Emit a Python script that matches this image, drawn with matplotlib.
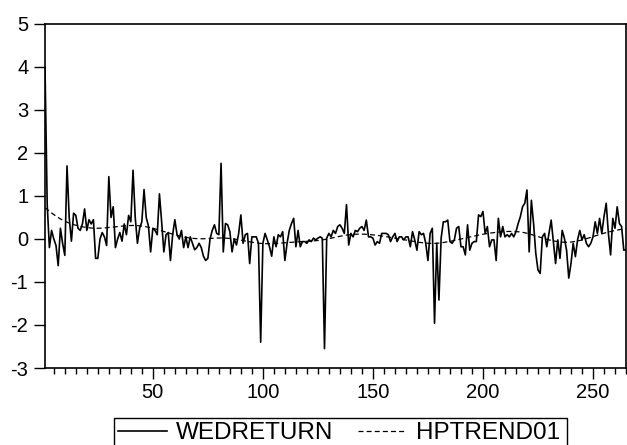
import numpy as np
import matplotlib
matplotlib.use("Agg")
import matplotlib.pyplot as plt
from matplotlib.patches import Rectangle
from matplotlib.ticker import MultipleLocator

wedreturn_1_40 = [
    4.0, 0.8, -0.2, 0.2, 0.0, -0.15, -0.62, 0.25, -0.1, -0.38,
    1.7, 0.5, -0.05, 0.6, 0.55, 0.25, 0.2, 0.35, 0.7, 0.2,
    0.45, 0.35, 0.45, -0.45, -0.45, 0.0, 0.15, 0.05, -0.15, 1.45,
    0.5, 0.75, -0.2, 0.0, 0.15, -0.05, 0.35, 0.1, 0.55, 0.4,
]
wedreturn_41_80 = [
    1.6, 0.5, -0.1, 0.25, 0.4, 1.15, 0.5, 0.3, -0.3, 0.25,
    0.2, 0.1, 1.05, 0.4, -0.3, 0.1, 0.15, -0.5, 0.1, 0.45,
    0.1, 0.0, 0.2, -0.2, 0.05, -0.2, 0.05, -0.1, -0.25, -0.2,
    -0.1, -0.2, -0.4, -0.5, -0.45, 0.0, 0.2, 0.33, 0.13, 0.1,
]
wedreturn_81_128 = [
    1.76, -0.3, 0.36, 0.33, 0.17, -0.3, 0.0, -0.14, 0.13, 0.56,
    -0.1, 0.1, 0.13, -0.57, 0.05, 0.05, 0.05, -0.1, -2.4, -0.1,
    0.13, -0.02, -0.18, -0.4, 0.05, -0.18, 0.1, 0.05, 0.17, -0.5,
    -0.1, 0.2, 0.36, 0.48, -0.18, 0.2, -0.18, -0.06, -0.06, -0.1,
    -0.02, -0.06, 0.02, -0.02, 0.02, 0.05, 0.02, -2.55,
]
wedreturn_129_168 = [
    0.02, 0.13, 0.05, 0.2, 0.13, 0.29, 0.33, 0.25, 0.13, 0.8,
    -0.14, 0.13, 0.05, 0.2, 0.17, 0.25, 0.29, 0.2, 0.44, 0.05,
    0.05, 0.02, -0.14, -0.06, -0.1, 0.13, 0.13, 0.13, 0.1, -0.06,
    0.05, 0.13, -0.06, 0.05, 0.05, -0.02, 0.05, 0.05, -0.18, 0.17,
]
wedreturn_169_220 = [
    -0.02, -0.26, 0.17, 0.1, 0.13, -0.1, -0.5, 0.13, 0.25, -1.96,
    -0.1, -1.42, 0.02, 0.4, 0.4, 0.44, -0.06, -0.1, -0.02, 0.25,
    0.29, -0.18, -0.18, -0.37, 0.33, -0.26, -0.1, -0.06, -0.06, 0.56,
    0.52, 0.64, 0.13, 0.29, -0.18, -0.02, -0.02, -0.5, 0.48, 0.05,
    0.29, 0.05, 0.1, 0.05, 0.13, 0.05, 0.17, 0.36, 0.52, 0.75,
    0.83, 1.14,
]
wedreturn_221_265 = [
    -0.3, 0.9, 0.36, -0.33, -0.72, -0.8, 0.05, 0.13, -0.18, 0.13,
    0.44, -0.06, -0.57, -0.02, -0.45, 0.2, 0.02, -0.26, -0.91, -0.57,
    -0.1, -0.41, -0.02, 0.2, -0.02, 0.1, -0.1, -0.18, -0.1, 0.05,
    0.4, 0.13, 0.48, 0.13, 0.52, 0.83, 0.13, -0.37, 0.48, 0.25,
    0.75, 0.36, 0.29, -0.26, -0.25,
]

wedreturn = np.array(
    wedreturn_1_40 + wedreturn_41_80 + wedreturn_81_128
    + wedreturn_129_168 + wedreturn_169_220 + wedreturn_221_265
)
obs = np.arange(1, len(wedreturn) + 1)


def hp_trend(y, lam):
    n = len(y)
    d = np.zeros((n - 2, n))
    for i in range(n - 2):
        d[i, i:i + 3] = [1.0, -2.0, 1.0]
    return np.linalg.solve(np.eye(n) + lam * d.T @ d, y)


hptrend01 = hp_trend(wedreturn, 5000.0)

plt.rcParams["font.family"] = ["Liberation Sans", "DejaVu Sans"]
plt.rcParams["axes.unicode_minus"] = False

W, H = 627, 445
fig = plt.figure(figsize=(W / 100, H / 100), dpi=100)
ax = fig.add_axes([45 / W, 1 - 368 / H, 581 / W, 344 / H])

ax.plot(obs, wedreturn, color="black", linewidth=1.2, label="WEDRETURN")
ax.plot(obs, hptrend01, color="black", linewidth=0.9, linestyle=(0, (4, 2.5)),
        label="HPTREND01")

ax.set_xlim(1, len(obs))
ax.set_ylim(-3, 5)
ax.yaxis.set_major_locator(MultipleLocator(1))
ax.xaxis.set_major_locator(MultipleLocator(50))
ax.xaxis.set_minor_locator(MultipleLocator(5))
ax.tick_params(axis="y", direction="out", length=8, width=1, labelsize=14.5, pad=4)
ax.tick_params(axis="x", which="major", direction="out", length=8, width=1,
               labelsize=14.5, pad=3)
ax.tick_params(axis="x", which="minor", direction="out", length=4, width=1)
for side in ["top", "right", "bottom", "left"]:
    ax.spines[side].set_linewidth(1.2)

# legend box runs off the bottom edge, as in the source image
fig.legend(loc="upper left", bbox_to_anchor=(117 / W, 1 - 421 / H),
           ncol=2, fontsize=17.5, frameon=False,
           handlelength=2.0, handletextpad=0.38, columnspacing=1.0,
           borderpad=0.05, borderaxespad=0)
fig.patches.append(Rectangle((114 / W, -0.05), (567 - 114) / W, 1 - 418 / H + 0.05,
                             transform=fig.transFigure, fill=False,
                             edgecolor="black", linewidth=1.0))

fig.savefig("out.png", dpi=100)
